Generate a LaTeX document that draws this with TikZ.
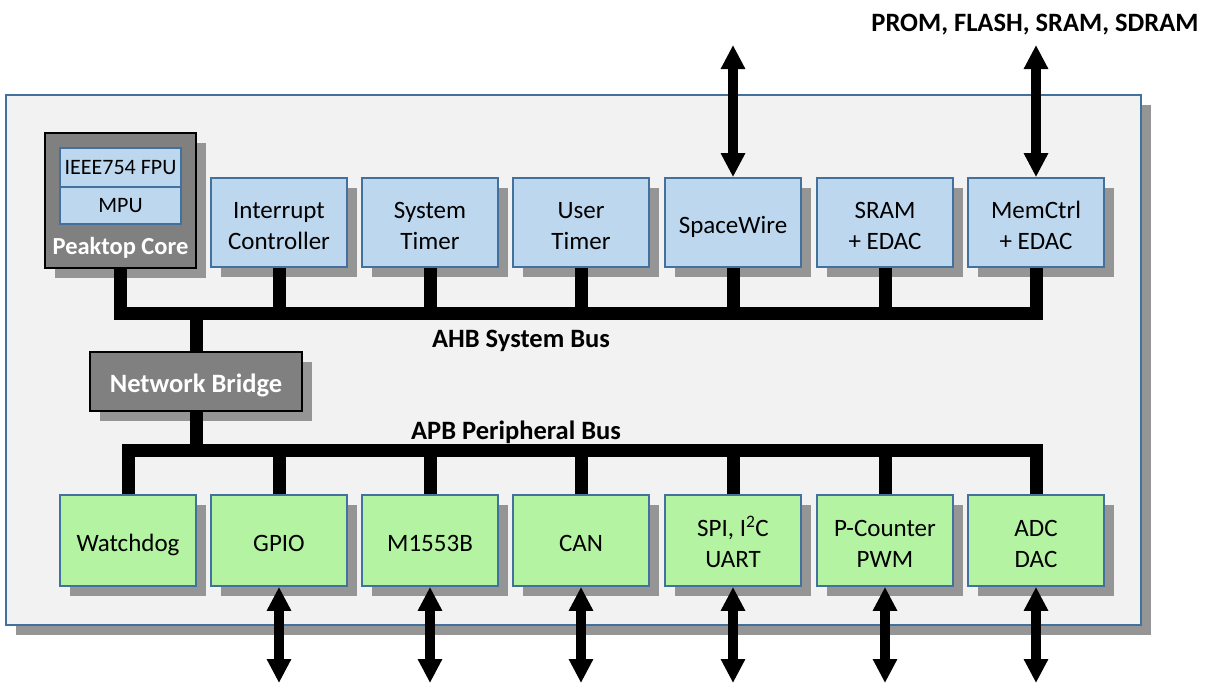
\documentclass[tikz,border=0pt]{standalone}
\usepackage{fontspec}
\setmainfont{Carlito}
\usetikzlibrary{arrows.meta,shadows}
\definecolor{panel}{HTML}{F2F2F2}
\definecolor{edgeblue}{HTML}{41719C}
\definecolor{ahbfill}{HTML}{BDD7EE}
\definecolor{apbfill}{HTML}{B3F3A2}
\definecolor{corefill}{HTML}{808080}
\definecolor{shade}{HTML}{959595}
% centred block of lines, set slightly low inside its box
\newcommand\blocktext[1]{\raisebox{-5pt}[\height][\depth]{\begin{tabular}{@{}c@{}}#1\end{tabular}}}
\tikzset{
  shadowed/.style={drop shadow={shadow xshift=10pt,shadow yshift=-10pt,fill=shade,opacity=1}},
  unit/.style={draw=edgeblue,line width=1.8pt,minimum width=136pt,inner sep=0pt,
    font=\fontsize{25}{31}\selectfont,shadowed},
  ahbunit/.style={unit,fill=ahbfill,minimum height=89pt},
  apbunit/.style={unit,fill=apbfill,minimum height=91pt},
  darkunit/.style={draw=black,line width=1.8pt,fill=corefill,inner sep=0pt,shadowed},
  subunit/.style={draw=edgeblue,line width=1.8pt,fill=ahbfill,minimum width=121pt,inner sep=0pt,
    font=\fontsize{22}{26}\selectfont},
  bus/.style={line width=13pt,line join=miter,line cap=butt},
  io/.style={line width=10pt,{Triangle[width=23pt,length=24pt]}-{Triangle[width=23pt,length=24pt]}},
  buslabel/.style={font=\bfseries\fontsize{26.5}{30}\selectfont}
}
\begin{document}
\begin{tikzpicture}[x=1pt,y=-1pt]
\useasboundingbox (0,0) rectangle (1209,683);
% chip outline
\node[draw=edgeblue,line width=1.8pt,fill=panel,shadowed,minimum width=1135pt,minimum height=530pt,inner sep=0pt]
  (chip) at (573.5,360) {};
% processor core
\node[darkunit,minimum width=151pt,minimum height=135pt] (core) at (120.5,200.5) {};
\node[subunit,minimum height=39pt] (fpu) at (120.5,167.5) {IEEE754 FPU};
\node[subunit,minimum height=37pt] (mpu) at (120.5,205.5) {MPU};
\node[font=\bfseries\fontsize{24.5}{28}\selectfont,text=white] (corelbl) at (120.5,248) {Peaktop Core};
% AHB units
\node[ahbunit] (irq)  at (279,222.5)  {\blocktext{Interrupt\\Controller}};
\node[ahbunit] (stim) at (430,222.5)  {\blocktext{System\\Timer}};
\node[ahbunit] (utim) at (581,222.5)  {\blocktext{User\\Timer}};
\node[ahbunit] (spw)  at (733,222.5)  {\blocktext{SpaceWire}};
\node[ahbunit] (sram) at (885,222.5)  {\blocktext{SRAM\\+ EDAC}};
\node[ahbunit] (mctl) at (1036,222.5) {\blocktext{MemCtrl\\+ EDAC}};
% bridge
\node[darkunit,minimum width=212pt,minimum height=59pt,text=white,font=\bfseries\fontsize{26.5}{30}\selectfont]
  (bridge) at (196,381.5) {\blocktext{Network Bridge}};
% APB units
\node[apbunit] (wdog) at (128,540.5)  {\blocktext{Watchdog}};
\node[apbunit] (gpio) at (279,540.5)  {\blocktext{GPIO}};
\node[apbunit] (mil)  at (430,540.5)  {\blocktext{M1553B}};
\node[apbunit] (can)  at (581,540.5)  {\blocktext{CAN}};
\node[apbunit] (spi)  at (733,540.5)  {\blocktext{SPI, I\textsuperscript{2}C\\UART}};
\node[apbunit] (pcnt) at (885,540.5)  {\blocktext{P-Counter\\PWM}};
\node[apbunit] (adc)  at (1036,540.5) {\blocktext{ADC\\DAC}};
% bus coordinates
\coordinate (ahb) at (0,313);
\coordinate (apb) at (0,450);
% AHB system bus
\draw[bus] (core.south) -- (core.south |- ahb) -- (mctl.south |- ahb) -- (mctl.south);
\foreach \n in {irq,stim,utim,spw,sram}
  \draw[bus] (\n.south) -- (\n.south |- ahb);
\draw[bus] (bridge.north |- ahb) -- (bridge.north);
% APB peripheral bus
\draw[bus] (bridge.south) -- (bridge.south |- apb);
\draw[bus] (wdog.north) -- (wdog.north |- apb) -- (adc.north |- apb) -- (adc.north);
\foreach \n in {gpio,mil,can,spi,pcnt}
  \draw[bus] (\n.north) -- (\n.north |- apb);
\node[buslabel] (ahblbl) at (521,341) {AHB System Bus};
\node[buslabel] (apblbl) at (516,432) {APB Peripheral Bus};
% external interfaces
\coordinate (topio) at (0,45);
\coordinate (botio) at (0,683);
\draw[io] (spw.north |- topio) -- (spw.north);
\draw[io] (mctl.north |- topio) -- (mctl.north);
\foreach \n in {gpio,mil,can,spi,pcnt,adc}
  \draw[io] (\n.south) -- (\n.south |- botio);
\node[buslabel,anchor=east] (memlbl) at (1202,25) {PROM, FLASH, SRAM, SDRAM};
\end{tikzpicture}
\end{document}
